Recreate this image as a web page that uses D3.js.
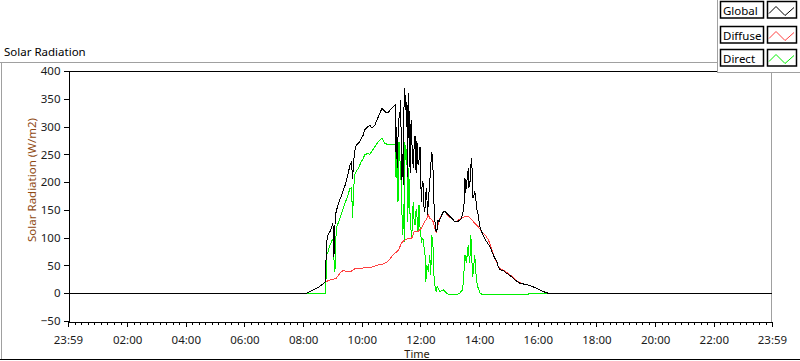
<!DOCTYPE html>
<html><head><meta charset="utf-8">
<script src="https://cdn.jsdelivr.net/npm/d3@7"></script>
<style>
html,body{margin:0;padding:0;background:#fff;}
svg{display:block;font-family:"Noto Sans",sans-serif;}
</style></head>
<body><svg id="chart" width="800" height="361"></svg>
<script>
// ---- data ----
const seriesNames = ["Global", "Diffuse", "Direct"];
const seriesColors = ["#000000", "#ff4040", "#00f000"];
const yTicks = [-50, 0, 50, 100, 150, 200, 250, 300, 350, 400];
const xTickLabels = ["23:59","02:00","04:00","06:00","08:00","10:00","12:00","14:00","16:00","18:00","20:00","22:00","23:59"];
const xTickMinutes = [-1,120,240,360,480,600,720,840,960,1080,1200,1320,1439];

const globalData = [["00:00",0],["08:07",0],["08:14",3],["08:21",6],["08:30",10],["08:38",15],["08:45",20],["08:46",40],["08:48",93],["08:51",105],["08:55",111],["08:58",118],["09:00",123],["09:02",118],["09:03",66],["09:04",100],["09:06",141],["09:10",155],["09:15",168],["09:20",180],["09:26",195],["09:31",212],["09:36",231],["09:39",237],["09:41",205],["09:43",230],["09:45",255],["09:49",267],["09:56",273],["10:03",285],["10:06",294],["10:10",298],["10:13",300],["10:17",302],["10:20",298],["10:24",300],["10:27",303],["10:31",312],["10:34",318],["10:38",326],["10:41",333],["10:44",330],["10:47",327],["10:51",325],["10:54",325],["10:58",330],["11:01",333],["11:05",336],["11:08",339],["11:09",255],["11:10",300],["11:11",290],["11:12",240],["11:13",225],["11:14",280],["11:16",315],["11:18",324],["11:19",348],["11:20",300],["11:21",290],["11:22",204],["11:24",250],["11:25",195],["11:26",330],["11:28",369],["11:29",330],["11:30",355],["11:31",300],["11:32",345],["11:33",330],["11:34",210],["11:35",351],["11:36",360],["11:37",300],["11:38",243],["11:39",216],["11:40",290],["11:41",312],["11:42",273],["11:43",264],["11:44",250],["11:45",225],["11:47",264],["11:48",282],["11:49",282],["11:50",250],["11:51",216],["11:52",273],["11:53",270],["11:55",231],["11:57",240],["11:59",264],["12:00",216],["12:02",165],["12:03",190],["12:05",201],["12:06",186],["12:07",156],["12:09",147],["12:10",170],["12:12",189],["12:13",180],["12:14",141],["12:15",150],["12:17",177],["12:19",201],["12:21",230],["12:23",255],["12:25",240],["12:27",180],["12:28",150],["12:30",125],["12:32",111],["12:34",115],["12:36",132],["12:38",129],["12:43",140],["12:47",147],["12:50",147],["12:57",141],["13:04",135],["13:10",129],["13:17",129],["13:24",135],["13:27",147],["13:29",160],["13:31",207],["13:32",180],["13:34",195],["13:36",210],["13:38",225],["13:39",190],["13:41",195],["13:42",215],["13:43",230],["13:45",243],["13:46",200],["13:47",171],["13:49",175],["13:51",183],["13:53",170],["13:55",153],["13:58",141],["14:02",117],["14:08",105],["14:15",93],["14:22",84],["14:29",69],["14:32",63],["14:36",58],["14:39",48],["14:43",42],["14:49",41],["14:56",36],["15:06",30],["15:13",24],["15:23",18],["15:34",16],["15:44",14],["15:54",10],["16:04",6],["16:14",2],["16:21",0],["23:59",0]];

const diffuseData = [["00:00",0],["08:07",0],["08:14",3],["08:21",6],["08:30",10],["08:38",15],["08:45",20],["08:50",22],["08:55",24],["09:02",25],["09:08",27],["09:12",32],["09:15",36],["09:22",41],["09:26",40],["09:32",40],["09:39",40],["09:46",44],["09:56",44],["10:06",46],["10:13",46],["10:20",47],["10:27",49],["10:34",51],["10:41",52],["10:47",54],["10:54",58],["11:01",66],["11:08",72],["11:15",78],["11:21",90],["11:24",93],["11:28",96],["11:35",99],["11:42",99],["11:45",105],["11:47",111],["11:55",111],["12:02",117],["12:05",123],["12:09",129],["12:13",135],["12:16",141],["12:19",135],["12:23",132],["12:26",129],["12:29",118],["12:32",110],["12:34",115],["12:36",123],["12:40",135],["12:43",141],["12:47",147],["12:50",147],["12:54",142],["12:57",138],["13:04",135],["13:10",129],["13:14",129],["13:17",132],["13:24",135],["13:31",138],["13:38",138],["13:45",132],["13:51",126],["13:58",120],["14:05",111],["14:12",105],["14:19",96],["14:25",81],["14:29",70],["14:32",63],["14:36",56],["14:39",48],["14:43",44],["14:49",42],["14:56",38],["15:06",31],["15:13",25],["15:23",19],["15:34",16],["15:44",14],["15:54",10],["16:04",6],["16:14",2],["16:21",0],["23:59",0]];

const directData = [["00:00",0],["08:46",0],["08:48",69],["08:51",75],["08:55",87],["09:00",97],["09:02",99],["09:03",60],["09:05",39],["09:07",100],["09:08",117],["09:15",135],["09:22",153],["09:29",170],["09:36",189],["09:39",190],["09:41",136],["09:43",180],["09:45",213],["09:49",220],["09:53",225],["09:58",235],["10:03",243],["10:06",249],["10:13",252],["10:16",249],["10:20",255],["10:27",264],["10:34",273],["10:41",279],["10:44",275],["10:47",270],["10:54",267],["11:01",267],["11:08",267],["11:10",207],["11:12",252],["11:14",165],["11:16",273],["11:18",240],["11:20",210],["11:22",150],["11:23",105],["11:25",160],["11:27",93],["11:28",273],["11:30",240],["11:32",260],["11:34",129],["11:36",225],["11:38",153],["11:40",120],["11:42",99],["11:44",140],["11:45",165],["11:47",130],["11:49",123],["11:51",150],["11:52",150],["11:54",120],["11:55",111],["11:57",159],["11:59",120],["12:02",93],["12:05",99],["12:07",85],["12:09",75],["12:11",21],["12:13",51],["12:16",39],["12:19",69],["12:21",33],["12:23",105],["12:26",81],["12:28",21],["12:32",3],["12:34",12],["12:36",9],["12:40",3],["12:47",6],["12:54",0],["13:00",-3],["13:14",-3],["13:20",0],["13:25",5],["13:27",15],["13:29",40],["13:31",69],["13:34",54],["13:36",75],["13:38",87],["13:40",55],["13:41",60],["13:43",105],["13:45",60],["13:47",30],["13:49",50],["13:51",69],["13:53",40],["13:55",21],["13:58",9],["14:02",0],["14:08",-3],["15:40",-3],["15:41",-1],["16:14",-1],["16:21",0],["23:59",0]];

// ---- drawing ----
const toMin = s => { const [h, m] = s.split(":").map(Number); return h * 60 + m; };
const svg = d3.select("#chart");
const plot = {left: 68, right: 772, top: 71, bottom: 321};

const x = d3.scaleLinear().domain([xTickMinutes[0], xTickMinutes[xTickMinutes.length - 1]]).range([plot.left, plot.right]);
const y = d3.scaleLinear().domain([yTicks[0], yTicks[yTicks.length - 1]]).range([plot.bottom, plot.top]);

// panel frame
svg.append("line").attr("x1", 0).attr("x2", 717).attr("y1", 62.5).attr("y2", 62.5).attr("stroke", "#a0a0a0");
svg.append("line").attr("x1", 1.5).attr("x2", 1.5).attr("y1", 62).attr("y2", 359).attr("stroke", "#a0a0a0");
svg.append("line").attr("x1", 0).attr("x2", 800).attr("y1", 359.5).attr("y2", 359.5).attr("stroke", "#000");

// plot frame
svg.append("line").attr("x1", plot.left).attr("x2", plot.right).attr("y1", plot.top + 0.5).attr("y2", plot.top + 0.5).attr("stroke", "#000");
svg.append("line").attr("x1", plot.right - 0.5).attr("x2", plot.right - 0.5).attr("y1", 62).attr("y2", plot.bottom + 1).attr("stroke", "#a0a0a0");

// title
svg.append("text").attr("x", 4).attr("y", 56).attr("font-size", 11.5).attr("fill", "#000").text("Solar Radiation");

// data lines
const line = d3.line().x(d => x(toMin(d[0]))).y(d => y(d[1])).curve(d3.curveLinear);
const dataSets = [directData, diffuseData, globalData];
const colorsInDrawOrder = [seriesColors[2], seriesColors[1], seriesColors[0]];
dataSets.forEach((ds, i) => {
  svg.append("path").datum(ds).attr("d", line).attr("fill", "none")
    .attr("stroke", colorsInDrawOrder[i]).attr("stroke-width", 1)
    .attr("shape-rendering", "crispEdges");
});

// y axis
const yAxis = svg.append("g").attr("transform", `translate(${plot.left + 0.5},0)`)
  .call(d3.axisLeft(y).tickValues(yTicks).tickSize(5).tickSizeOuter(0).tickPadding(3));
yAxis.selectAll("text").attr("font-size", 11.5).attr("fill", "#1a1a1a").attr("font-family", "Noto Sans");
yAxis.selectAll("line,path").attr("stroke", "#000").attr("shape-rendering", "crispEdges");

// x axis minor ticks
const minor = [];
for (let i = 0; i < xTickMinutes.length - 1; i++) {
  const a = xTickMinutes[i], b = xTickMinutes[i + 1];
  for (let k = 1; k < 9; k++) minor.push(a + (b - a) * k / 9);
}
const xMinor = svg.append("g").attr("transform", `translate(0,${plot.bottom + 0.5})`)
  .call(d3.axisBottom(x).tickValues(minor).tickSize(3).tickSizeOuter(0).tickFormat(""));
xMinor.selectAll("line,path").attr("stroke", "#000").attr("shape-rendering", "crispEdges");

const xAxis = svg.append("g").attr("transform", `translate(0,${plot.bottom + 0.5})`)
  .call(d3.axisBottom(x).tickValues(xTickMinutes).tickSize(5).tickSizeOuter(0).tickPadding(9)
    .tickFormat((d, i) => xTickLabels[i]));
xAxis.selectAll("text").attr("font-size", 11.5).attr("fill", "#1a1a1a").attr("font-family", "Noto Sans");
xAxis.selectAll("line,path").attr("stroke", "#000").attr("shape-rendering", "crispEdges");

// axis titles
svg.append("text").attr("transform", "translate(36,180) rotate(-90)").attr("text-anchor", "middle")
  .attr("font-size", 11.5).attr("fill", "#8f4a13").text("Solar Radiation (W/m2)");
svg.append("text").attr("x", 417).attr("y", 358).attr("text-anchor", "middle")
  .attr("font-size", 11).attr("fill", "#2b1a0a").text("Time");

// legend
const leg = svg.append("g");
leg.append("rect").attr("x", 717.5).attr("y", -1).attr("width", 84).attr("height", 73.5)
  .attr("fill", "#fff").attr("stroke", "#a0a0a0");
seriesNames.forEach((name, i) => {
  const top = [1.5, 26.5, 49.5][i];
  const g = leg.append("g").attr("transform", `translate(0,${top})`);
  g.append("rect").attr("x", 720.5).attr("y", 0).attr("width", 43).attr("height", 16.5)
    .attr("fill", "#fff").attr("stroke", "#000").attr("stroke-width", 1.5);
  g.append("text").attr("x", 723).attr("y", 13).attr("font-size", 11.5).attr("fill", "#000").text(name);
  g.append("rect").attr("x", 767.5).attr("y", 0).attr("width", 29).attr("height", 16.5)
    .attr("fill", "#fff").attr("stroke", "#000").attr("stroke-width", 1.5);
  g.append("polyline").attr("points", "769,12 776,5 785,14 794,6").attr("fill", "none")
    .attr("stroke", seriesColors[i]).attr("stroke-width", 1);
});
</script>
</body></html>
